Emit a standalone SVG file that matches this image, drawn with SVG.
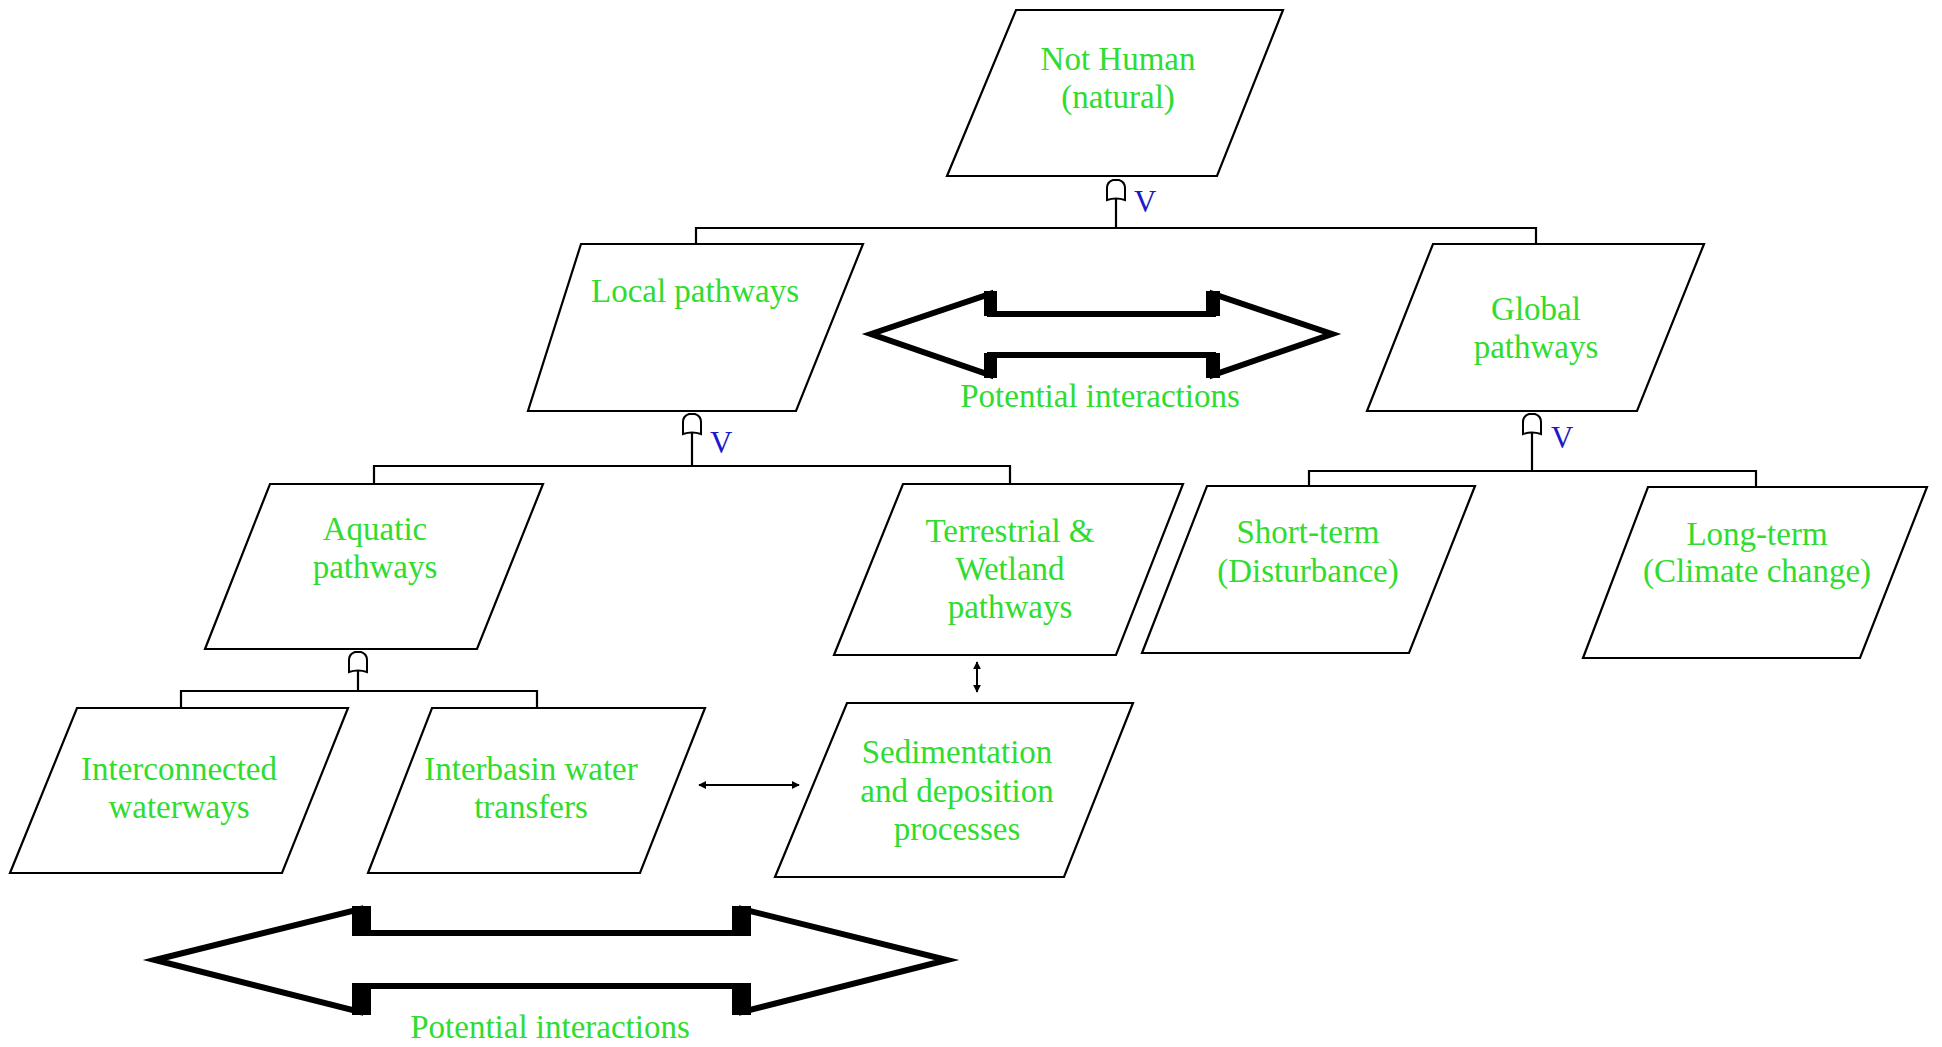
<svg xmlns="http://www.w3.org/2000/svg" width="1942" height="1047" viewBox="0 0 1942 1047">
<style>
.box{fill:#fff;stroke:#000;stroke-width:2.2}
.t{font-family:"Liberation Serif","Times New Roman",serif;font-size:33px;fill:#2fdc2f;text-anchor:middle}
.v{font-family:"Liberation Serif","Times New Roman",serif;font-size:31px;fill:#1a1acc}
.ln{fill:none;stroke:#000;stroke-width:2.2}
.gate{fill:#fff;stroke:#000;stroke-width:2}
.big{fill:#fff;stroke:#000;stroke-width:6;stroke-linejoin:miter;stroke-miterlimit:10}
.sm{fill:none;stroke:#000;stroke-width:2;marker-start:url(#ah);marker-end:url(#ah)}
</style>
<defs>
<marker id="ah" viewBox="0 0 10 10" refX="9" refY="5" markerWidth="4" markerHeight="4" orient="auto-start-reverse" markerUnits="strokeWidth">
<path d="M0,0 L10,5 L0,10 Z" fill="#000"/>
</marker>
</defs>
<rect width="1942" height="1047" fill="#fff"/>

<g id="connectors">
<path class="ln" d="M696,244 V228 H1536 V244 M1116,228 V198"/>
<path class="ln" d="M374,484 V466 H1010 V484 M692,466 V432"/>
<path class="ln" d="M1309,486 V471 H1756 V486 M1532,471 V432"/>
<path class="ln" d="M181,707 V691 H537 V707 M358,691 V669"/>
<path class="gate" d="M1107,200 L1107,188 Q1107,182 1113,180 L1119,180 Q1125,182 1125,188 L1125,200 Q1116,197 1107,200 Z"/>
<path class="gate" d="M683,434 L683,422 Q683,416 689,414 L695,414 Q701,416 701,422 L701,434 Q692,431 683,434 Z"/>
<path class="gate" d="M1523,434 L1523,422 Q1523,416 1529,414 L1535,414 Q1541,416 1541,422 L1541,434 Q1532,431 1523,434 Z"/>
<path class="gate" d="M349,672 L349,660 Q349,654 355,652 L361,652 Q367,654 367,660 L367,672 Q358,669 349,672 Z"/>
<text class="v" x="1134" y="212">V</text>
<text class="v" x="710" y="453">V</text>
<text class="v" x="1551" y="448">V</text>
<line class="sm" x1="977" y1="662" x2="977" y2="692"/>
<line class="sm" x1="699" y1="785" x2="799" y2="785"/>
</g>

<g id="arrow1">
<polygon class="big" points="871,334 990,294 990,314 1213,314 1213,294 1332,334 1213,375 1213,355 990,355 990,375"/>
<rect x="984" y="291" width="13" height="25" fill="#000"/>
<rect x="984" y="353" width="13" height="25" fill="#000"/>
<rect x="1206" y="291" width="14" height="25" fill="#000"/>
<rect x="1206" y="353" width="14" height="25" fill="#000"/>
<text class="t" x="1100" y="407">Potential interactions</text>
</g>

<g id="arrow2">
<polygon class="big" points="155,960 360,909 360,933 742,933 742,909 947,960 742,1012 742,986 360,986 360,1012"/>
<rect x="352" y="906" width="19" height="30" fill="#000"/>
<rect x="352" y="983" width="19" height="32" fill="#000"/>
<rect x="732" y="906" width="19" height="30" fill="#000"/>
<rect x="732" y="983" width="19" height="32" fill="#000"/>
<text class="t" x="550" y="1038">Potential interactions</text>
</g>

<g id="not-human">
<polygon class="box" points="1016,10 1283,10 1217,176 947,176"/>
<text class="t" x="1118" y="70">Not Human</text>
<text class="t" x="1118" y="108">(natural)</text>
</g>

<g id="local">
<polygon class="box" points="581,244 863,244 796,411 528,411"/>
<text class="t" x="695" y="302">Local pathways</text>
</g>

<g id="global">
<polygon class="box" points="1433,244 1704,244 1637,411 1367,411"/>
<text class="t" x="1536" y="320">Global</text>
<text class="t" x="1536" y="358">pathways</text>
</g>

<g id="aquatic">
<polygon class="box" points="270,484 543,484 477,649 205,649"/>
<text class="t" x="375" y="540">Aquatic</text>
<text class="t" x="375" y="578">pathways</text>
</g>

<g id="terrestrial">
<polygon class="box" points="903,484 1183,484 1116,655 834,655"/>
<text class="t" x="1010" y="542">Terrestrial &amp;</text>
<text class="t" x="1010" y="580">Wetland</text>
<text class="t" x="1010" y="618">pathways</text>
</g>

<g id="short-term">
<polygon class="box" points="1207,486 1475,486 1409,653 1142,653"/>
<text class="t" x="1308" y="543">Short-term</text>
<text class="t" x="1308" y="582">(Disturbance)</text>
</g>

<g id="long-term">
<polygon class="box" points="1648,487 1927,487 1860,658 1583,658"/>
<text class="t" x="1757" y="545">Long-term</text>
<text class="t" x="1757" y="582">(Climate change)</text>
</g>

<g id="interconnected">
<polygon class="box" points="77,708 348,708 282,873 10,873"/>
<text class="t" x="179" y="780">Interconnected</text>
<text class="t" x="179" y="818">waterways</text>
</g>

<g id="interbasin">
<polygon class="box" points="432,708 705,708 640,873 368,873"/>
<text class="t" x="531" y="780">Interbasin water</text>
<text class="t" x="531" y="818">transfers</text>
</g>

<g id="sedimentation">
<polygon class="box" points="847,703 1133,703 1064,877 775,877"/>
<text class="t" x="957" y="763">Sedimentation</text>
<text class="t" x="957" y="802">and deposition</text>
<text class="t" x="957" y="840">processes</text>
</g>
</svg>
